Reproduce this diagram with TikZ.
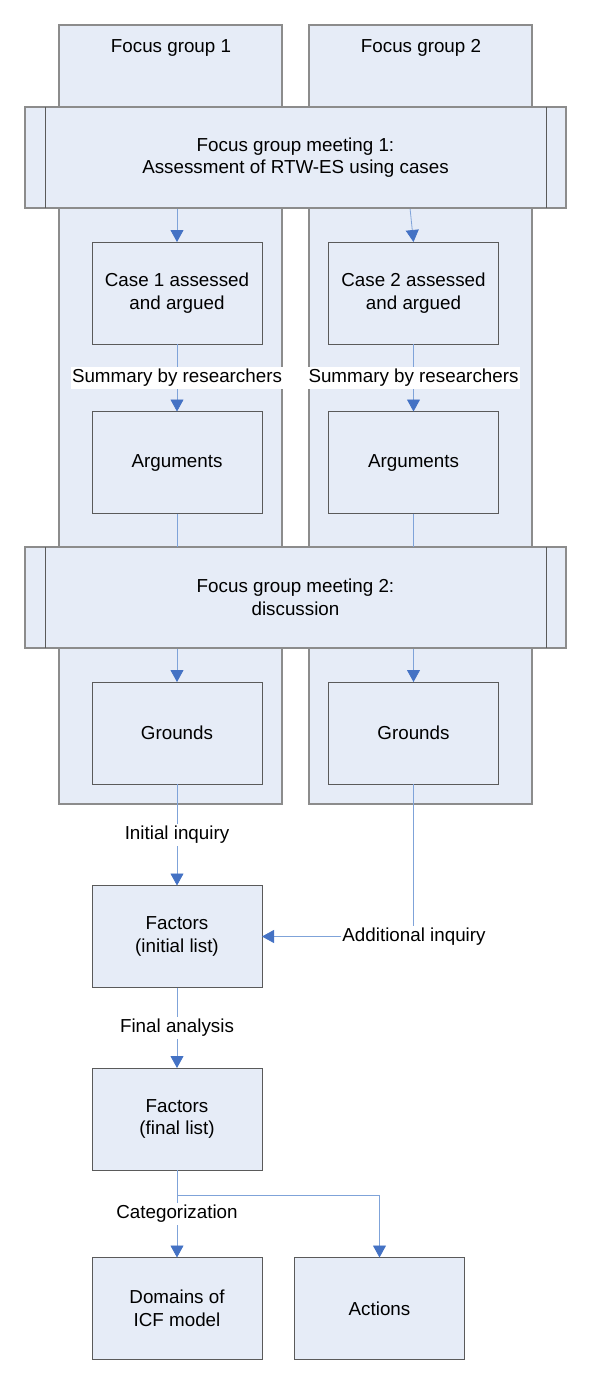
\documentclass[tikz,border=0pt]{standalone}
\usepackage{fontspec}
\setmainfont{Liberation Sans}
\usetikzlibrary{arrows.meta}
\definecolor{boxfill}{HTML}{E6ECF7}
\definecolor{colborder}{HTML}{8C8C8C}
\definecolor{boxborder}{HTML}{5A5A5A}
\definecolor{linkblue}{HTML}{7FA3D9}
\definecolor{tipblue}{HTML}{4472C4}
\tikzset{
  every node/.style={font=\fontsize{18.8}{22.5}\selectfont, align=center, inner sep=0pt, outer sep=0pt},
  column/.style={draw=colborder, line width=1.2pt, fill=boxfill, minimum width=223, minimum height=779},
  meeting/.style={draw=colborder, line width=1.2pt, fill=boxfill, minimum width=541, minimum height=101},
  stepbox/.style={draw=boxborder, line width=1pt, fill=boxfill, minimum width=170, minimum height=102},
  conn/.style={draw=linkblue, line width=0.8pt},
  arr/.style={conn, -{Triangle[width=13pt,length=12pt,color=tipblue]}},
  lbl/.style={fill=white, inner xsep=1pt, inner ysep=2pt},
}
\begin{document}
\begin{tikzpicture}[x=1pt,y=-1pt]
\useasboundingbox (0,0) rectangle (600,1383);
% columns
\node[column] (col1) at (170.5,414.5) {};
\node[column] (col2) at (420.5,414.5) {};
\node (fg1) at (171,48) {Focus group 1};
\node (fg2) at (421,48) {Focus group 2};
% step boxes
\node[stepbox] (case1) at (177,293) {Case 1 assessed\\and argued};
\node[stepbox] (case2) at (413.5,293) {Case 2 assessed\\and argued};
\node[stepbox] (arg1) at (177,462.5) {Arguments};
\node[stepbox] (arg2) at (413.5,462.5) {Arguments};
\node[stepbox] (gr1) at (177,733) {Grounds};
\node[stepbox] (gr2) at (413.5,733) {Grounds};
\node[stepbox] (fi) at (177,936.5) {Factors\\(initial list)};
\node[stepbox] (ff) at (177,1119) {Factors\\(final list)};
\node[stepbox] (dom) at (177,1308.5) {Domains of\\ICF model};
\node[stepbox] (act) at (379.5,1308.5) {Actions};
% connectors inside columns
\coordinate (m1a) at (177,208);
\coordinate (m1b) at (410,208);
\draw[arr] (m1a) -- (case1.north);
\draw[arr] (m1b) -- (case2.north);
\draw[arr] (case1.south) -- node[lbl] {Summary by researchers} (arg1.north);
\draw[arr] (case2.south) -- node[lbl] {Summary by researchers} (arg2.north);
\coordinate (m2a) at (177,648);
\coordinate (m2b) at (413.5,648);
\draw[arr] (m2a) -- (gr1.north);
\draw[arr] (m2b) -- (gr2.north);
% meetings (drawn over columns)
\node[meeting] (m1) at (295.5,157.5) {Focus group meeting 1:\\Assessment of RTW-ES using cases};
\draw[boxborder, line width=1pt] ([xshift=20]m1.north west) -- ([xshift=20]m1.south west);
\draw[boxborder, line width=1pt] ([xshift=-20]m1.north east) -- ([xshift=-20]m1.south east);
\node[meeting] (m2) at (295.5,597.5) {Focus group meeting 2:\\discussion};
\draw[boxborder, line width=1pt] ([xshift=20]m2.north west) -- ([xshift=20]m2.south west);
\draw[boxborder, line width=1pt] ([xshift=-20]m2.north east) -- ([xshift=-20]m2.south east);
% arguments to meeting 2 (short lines)
\draw[conn] (arg1.south) -- (arg1.south |- m2.north);
\draw[conn] (arg2.south) -- (arg2.south |- m2.north);
% lower flow
\draw[arr] (gr1.south) -- node[lbl] {Initial inquiry} (fi.north);
\node[lbl] (addl) at (414,936.5) {Additional inquiry};
\draw[conn] (gr2.south) -- (gr2.south |- addl.north);
\draw[arr] (addl.west) -- (fi.east);
\draw[arr] (fi.south) -- node[lbl] {Final analysis} (ff.north);
\coordinate (br) at (177,1195);
\draw[arr] (ff.south) -- node[lbl, pos=0.5] {Categorization} (dom.north);
\draw[arr] (br) -| (act.north);
\end{tikzpicture}
\end{document}
